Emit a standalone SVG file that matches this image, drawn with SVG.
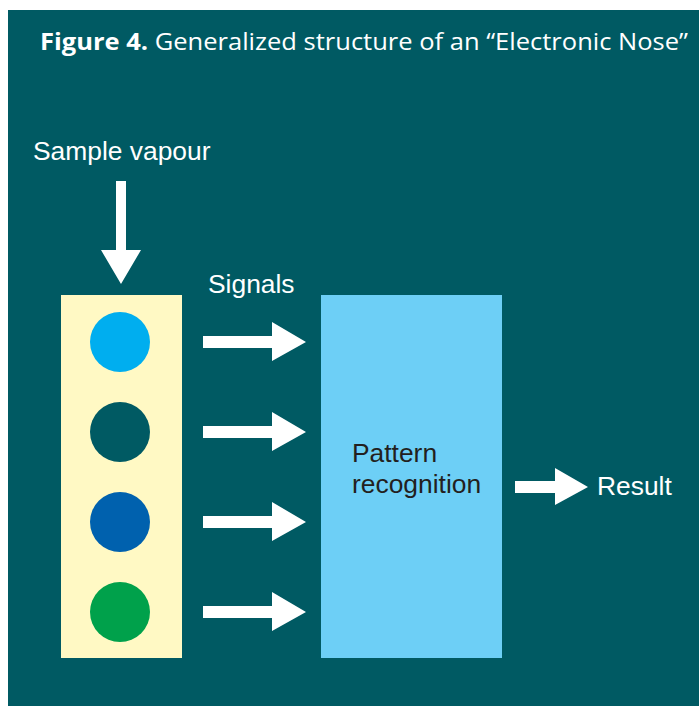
<svg xmlns="http://www.w3.org/2000/svg" width="699" height="706" viewBox="0 0 699 706">
<style>
.lbl{font-family:"Liberation Sans",Arial,sans-serif;font-size:26.4px;fill:#ffffff}
.dark{fill:#231f20}
.arr{fill:#ffffff}
</style>
<defs>
<path id="rarr" d="M0,-6 L69,-6 L69,-20 L103,0 L69,19 L69,6 L0,6 Z"/>
</defs>
<rect x="0" y="0" width="699" height="706" fill="#ffffff"/>
<rect x="8" y="10" width="691" height="696" fill="#005a63"/>
<text x="40" y="50" font-family="'Open Sans',sans-serif" font-size="24" fill="#ffffff" textLength="648" lengthAdjust="spacingAndGlyphs"><tspan font-weight="bold">Figure 4.</tspan> Generalized structure of an “Electronic Nose”</text>
<g id="sample">
<text class="lbl" x="33" y="160">Sample vapour</text>
<path class="arr" d="M116,181 L126,181 L126,250 L141,250 L121,284 L101,250 L116,250 Z"/>
</g>
<g id="sensors">
<rect x="61" y="295" width="121" height="363" fill="#fff9c4"/>
<circle cx="120" cy="342" r="30" fill="#00aeef"/>
<circle cx="120" cy="432" r="30" fill="#005a63"/>
<circle cx="120" cy="522" r="30" fill="#0061ae"/>
<circle cx="120" cy="612" r="30" fill="#00a14b"/>
</g>
<g id="connectors">
<text class="lbl" x="208" y="293">Signals</text>
<use href="#rarr" class="arr" x="203" y="342"/>
<use href="#rarr" class="arr" x="203" y="432"/>
<use href="#rarr" class="arr" x="203" y="522"/>
<use href="#rarr" class="arr" x="203" y="612"/>
<path class="arr" d="M515,481 L555,481 L555,468 L588,487 L555,505 L555,493 L515,493 Z"/>
</g>
<g id="pattern">
<rect x="321" y="295" width="181" height="363" fill="#6dcff6"/>
<text class="lbl dark" x="352" y="462">Pattern</text>
<text class="lbl dark" x="352" y="493">recognition</text>
</g>
<g id="result">
<text class="lbl" x="597" y="495">Result</text>
</g>
</svg>
